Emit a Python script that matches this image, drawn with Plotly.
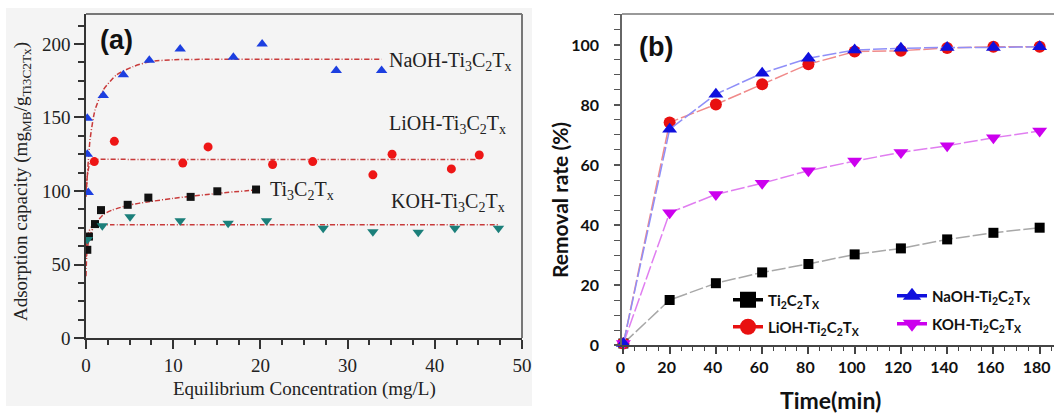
import plotly.graph_objects as go

W, H = 1054, 415

# ---------------- Panel (a): adsorption isotherms ----------------
na_x = [0.15, 0.15, 0.26, 1.98, 4.28, 7.26, 10.8, 16.9, 20.2, 28.7, 33.9]
na_y = [149.5, 125, 99, 165, 179, 189, 196.6, 191, 200, 182, 182]
li_x = [0.95, 3.25, 11.1, 14.0, 21.4, 26.0, 32.9, 35.1, 41.9, 45.1]
li_y = [120, 133.8, 119, 130, 118, 120, 111, 125, 115, 124.5]
ti_x = [0.15, 0.34, 1.03, 1.72, 4.78, 7.15, 12.0, 15.06, 19.5]
ti_y = [60, 69, 77.5, 87, 90.6, 95.5, 96, 99.8, 101]
ko_x = [0.15, 1.87, 5.05, 10.8, 16.3, 20.7, 27.2, 32.9, 38.1, 42.3, 47.3]
ko_y = [67, 76.4, 82.5, 79.8, 78, 79.8, 74.6, 72.3, 72, 74.6, 74.6]

# fitted curves
na_fit_x = [0, 0.46, 1.03, 1.98, 3.5, 5.4, 7.3, 10, 15, 20, 25, 30, 33.9]
na_fit_y = [96, 134.7, 155, 168.7, 179, 184.6, 188, 189.3, 189.6, 189.7, 189.7, 189.7, 189.7]
li_fit_x = [0, 0.15, 0.35, 0.6, 1, 5, 10, 20, 30, 40, 44.8]
li_fit_y = [100, 110, 117, 120, 121.3, 121.5, 121.5, 121.5, 121.5, 121.5, 121.5]
ti_fit_x = [0, 0.1, 0.3, 0.6, 1, 2, 3, 5, 7, 10, 15, 20]
ti_fit_y = [42, 58, 66, 72, 77, 84, 87, 90.5, 92.5, 95, 98.3, 101]
ko_fit_x = [0, 0.1, 0.3, 0.6, 1, 3, 10, 20, 30, 40, 47.4]
ko_fit_y = [55, 65, 72, 75.5, 76.7, 77, 77, 77, 77, 77, 77]

a_labels = ["NaOH-Ti<sub>3</sub>C<sub>2</sub>T<sub>x</sub>",
            "LiOH-Ti<sub>3</sub>C<sub>2</sub>T<sub>x</sub>",
            "Ti<sub>3</sub>C<sub>2</sub>T<sub>x</sub>",
            "KOH-Ti<sub>3</sub>C<sub>2</sub>T<sub>x</sub>"]
a_label_x = [34.5, 34.5, 20.9, 34.7]
a_label_y = [188, 145, 100, 92]

# ---------------- Panel (b): removal rate vs time ----------------
t_min = [0, 20, 40, 60, 80, 100, 120, 140, 160, 180]
rr_ti = [0.5, 15, 20.6, 24.2, 27, 30.2, 32.2, 35.2, 37.4, 39.1]
rr_li = [0.5, 74.2, 80.2, 86.9, 93.6, 97.8, 98.1, 99, 99.4, 99.4]
rr_na = [0.5, 71.9, 83.6, 90.6, 95.6, 98.3, 98.9, 99.2, 99.2, 99.4]
rr_ko = [0.5, 44.1, 50.2, 53.9, 58.1, 61.3, 64.2, 66.4, 69.1, 71.3]
b_names = ["Ti<sub>2</sub>C<sub>2</sub>T<sub>X</sub>",
           "LiOH-Ti<sub>2</sub>C<sub>2</sub>T<sub>X</sub>",
           "NaOH-Ti<sub>2</sub>C<sub>2</sub>T<sub>X</sub>",
           "KOH-Ti<sub>2</sub>C<sub>2</sub>T<sub>X</sub>"]


def px_x(p):
    return p / W


def px_y(p):
    return (H - p) / H


SERIF = "Liberation Serif"
SANS_B = "Lato"

fig = go.Figure()

# ---- panel (a) traces ----
fit_style = dict(color="#c83a3a", width=1.5, dash="5px,2px,1px,2px")
for fx, fy in [(na_fit_x, na_fit_y), (li_fit_x, li_fit_y), (ti_fit_x, ti_fit_y), (ko_fit_x, ko_fit_y)]:
    fig.add_trace(go.Scatter(x=fx, y=fy, mode="lines", line=dict(shape="spline", smoothing=0.6, **fit_style),
                             xaxis="x", yaxis="y", showlegend=False, hoverinfo="skip"))

fig.add_trace(go.Scatter(x=na_x, y=na_y, mode="markers", xaxis="x", yaxis="y", showlegend=False,
                         marker=dict(symbol="triangle-up", size=10, color="#1c3fe0")))
fig.add_trace(go.Scatter(x=li_x, y=li_y, mode="markers", xaxis="x", yaxis="y", showlegend=False,
                         marker=dict(symbol="circle", size=9, color="#ee1616")))
fig.add_trace(go.Scatter(x=ti_x, y=ti_y, mode="markers", xaxis="x", yaxis="y", showlegend=False,
                         marker=dict(symbol="square", size=8, color="#111111")))
fig.add_trace(go.Scatter(x=ko_x, y=ko_y, mode="markers", xaxis="x", yaxis="y", showlegend=False,
                         marker=dict(symbol="triangle-down", size=10, color="#1b7f7a")))

# ---- panel (b) traces ----
# (values, line colour, marker colour, symbol, size, name, legend id)
b_specs = [
    (rr_ti, "#a8a8a8", "#000000", "square", 10, b_names[0], "legend"),
    (rr_li, "#f08a8a", "#e81010", "circle", 12, b_names[1], "legend2"),
    (rr_ko, "#e07ef0", "#cc00ee", "triangle-down", 13, b_names[3], "legend4"),
    (rr_na, "#8f8ff8", "#1010dd", "triangle-up", 13, b_names[2], "legend3"),
]
for ys, lc, mc, sym, ms, name, lg in b_specs:
    fig.add_trace(go.Scatter(x=t_min, y=ys, mode="lines+markers", xaxis="x2", yaxis="y2",
                             line=dict(color=lc, width=1.5, dash="14px,3px"),
                             marker=dict(symbol=sym, size=ms, color=mc),
                             cliponaxis=False, showlegend=False))
for ys, lc, mc, sym, ms, name, lg in b_specs:
    fig.add_trace(go.Scatter(x=[None], y=[None], mode="lines+markers", xaxis="x2", yaxis="y2",
                             name=name, legend=lg, showlegend=True,
                             line=dict(color=mc, width=3.5),
                             marker=dict(symbol=sym, size=16, color=mc)))

# ---- axes ----
tick_a = dict(family=SERIF, size=19, color="#222")
leg_font = dict(family=SANS_B, size=15, color="#111", weight="bold")


def leg(x, y):
    return dict(orientation="v", x=px_x(x), y=px_y(y), xanchor="left", yanchor="middle",
                bgcolor="rgba(0,0,0,0)", font=leg_font, itemsizing="trace")


fig.update_layout(
    width=W, height=H,
    margin=dict(l=0, r=0, t=0, b=0, autoexpand=False),
    paper_bgcolor="white", plot_bgcolor="rgba(0,0,0,0)",
    xaxis=dict(domain=[px_x(86), px_x(522)], range=[0, 50], tick0=0, dtick=10,
               ticks="outside", ticklen=9, tickwidth=1.5, tickcolor="#333",
               minor=dict(dtick=2.5, ticks="outside", ticklen=5, tickwidth=1.5, tickcolor="#333"),
               showline=True, linecolor="#333", linewidth=1.5, showgrid=False, zeroline=False,
               tickfont=tick_a, anchor="y", automargin=False),
    yaxis=dict(domain=[px_y(338), px_y(14)], range=[0, 220.4], tick0=0, dtick=50,
               ticks="outside", ticklen=10, tickwidth=1.5, tickcolor="#333",
               minor=dict(dtick=12.5, ticks="outside", ticklen=6, tickwidth=1.5, tickcolor="#333"),
               showline=True, linecolor="#333", linewidth=1.5, showgrid=False, zeroline=False,
               tickfont=tick_a, anchor="x", automargin=False),
    xaxis2=dict(domain=[px_x(622), 1], range=[-0.6, 186.2], tick0=0, dtick=20,
                ticks="outside", ticklen=7, tickwidth=1.5, tickcolor="#444",
                minor=dict(dtick=5, ticks="outside", ticklen=4, tickwidth=1.2, tickcolor="#444"),
                showline=True, linecolor="#444", linewidth=1.5, showgrid=False, zeroline=False,
                tickfont=dict(family=SANS_B, size=16, color="#111", weight="bold"),
                ticklabelshift=-3, anchor="y2", automargin=False),
    yaxis2=dict(domain=[px_y(345), px_y(14)], range=[0, 110.33], tick0=0, dtick=20,
                ticks="outside", ticklen=6, tickwidth=1.5, tickcolor="#555",
                minor=dict(dtick=5, ticks="outside", ticklen=6, tickwidth=1.2, tickcolor="#555"),
                showline=True, linecolor="#666", linewidth=1.5, showgrid=False, zeroline=False,
                tickfont=dict(family=SANS_B, size=16, color="#111", weight="bold"),
                ticklabelstandoff=12, anchor="x2", automargin=False),
    legend=leg(728, 300),
    legend2=leg(728, 327),
    legend3=leg(892, 296),
    legend4=leg(892, 324),
    showlegend=True,
)

# ---- background and frames ----
shapes = [
    dict(type="rect", xref="paper", yref="paper", x0=px_x(6), x1=px_x(532), y0=px_y(406), y1=px_y(8),
         fillcolor="#f4f4f4", line=dict(width=0), layer="below"),
    dict(type="line", xref="x domain", yref="y domain", x0=0, x1=1, y0=1, y1=1,
         line=dict(color="#777", width=2)),
    dict(type="line", xref="x domain", yref="y domain", x0=1, x1=1, y0=0, y1=1,
         line=dict(color="#777", width=2)),
    dict(type="line", xref="x2 domain", yref="y2 domain", x0=0, x1=1, y0=1, y1=1,
         line=dict(color="#999", width=2)),
]
fig.update_layout(shapes=shapes)

# ---- annotations ----
ann = []
for txt, lx, ly in zip(a_labels, a_label_x, a_label_y):
    ann.append(dict(x=lx, y=ly, xref="x", yref="y", text=txt, showarrow=False, xanchor="left", yanchor="middle",
                    font=dict(family=SERIF, size=20, color="#222")))


def centered(x, y, text, font, angle=0):
    return dict(x=px_x(x), y=px_y(y), xref="paper", yref="paper", text=text, showarrow=False,
                xanchor="center", yanchor="middle", textangle=angle, font=font)


ann += [
    centered(116, 40, "<b>(a)</b>", dict(family="Liberation Sans", size=27, color="#111")),
    centered(656, 47, "<b>(b)</b>", dict(family="Liberation Sans", size=27, color="#111")),
    centered(22, 182, "Adsorption capacity (mg<sub>MB</sub>/g<sub>Ti3C2Tx</sub>)",
             dict(family=SERIF, size=19, color="#222"), -90),
    centered(304, 389, "Equilibrium Concentration (mg/L)", dict(family=SERIF, size=19, color="#222")),
    centered(559, 200, "Removal rate (%)", dict(family=SANS_B, size=21, color="#111", weight="bold"), -90),
    centered(830, 400, "Time(min)", dict(family=SANS_B, size=23, color="#111", weight="bold")),
]
fig.update_layout(annotations=ann)

fig.write_html("out.html", config={"displayModeBar": False},
               post_script="document.body.style.margin='0';document.body.style.overflow='hidden';")
